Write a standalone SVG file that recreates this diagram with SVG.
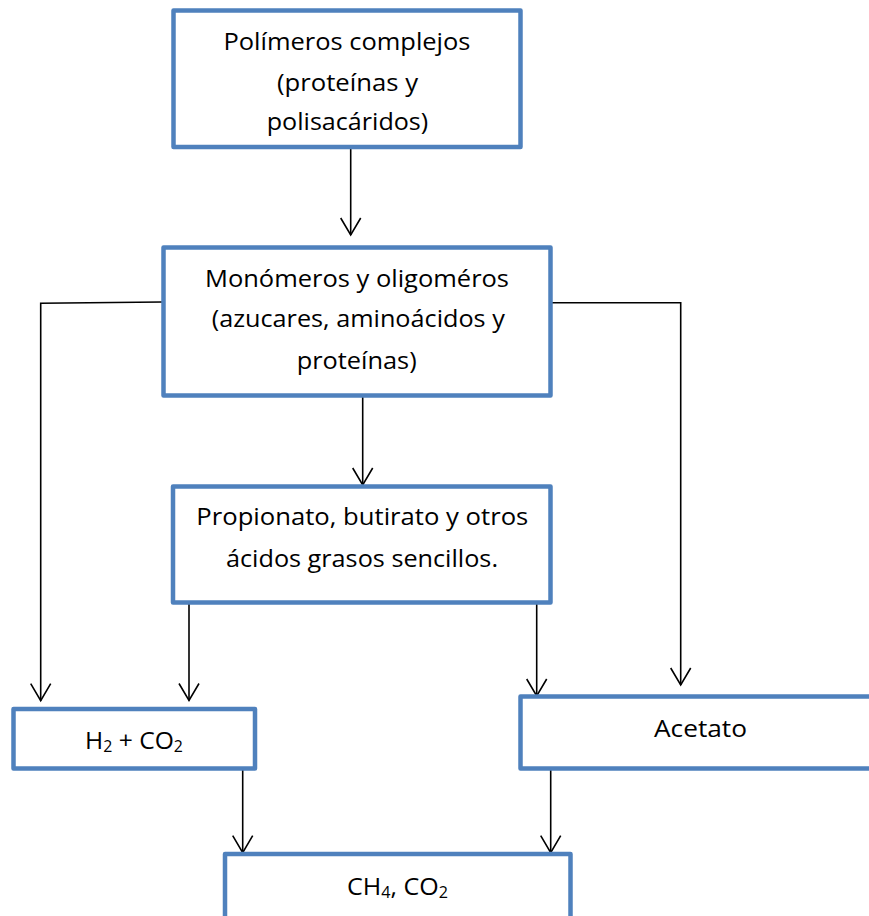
<svg xmlns="http://www.w3.org/2000/svg" width="869" height="916" viewBox="0 0 869 916">
  <style>
    .box { fill: #ffffff; stroke: #4F81BD; stroke-width: 4.5; stroke-linejoin: round; }
    .lbl { font-family: "Open Sans", "Liberation Sans", sans-serif; font-size: 24px; fill: #000000; text-anchor: middle; }
    .sub { font-size: 15.5px; }
    .wire { fill: none; stroke: #000000; stroke-width: 1.6; }
  </style>
  <defs>
    <marker id="arrow" markerUnits="userSpaceOnUse" markerWidth="20" markerHeight="24" refX="0" refY="0" orient="auto" overflow="visible">
      <path d="M -17,-10 L 0,0 L -17,10" fill="none" stroke="#000000" stroke-width="1.6"/>
    </marker>
  </defs>
  <rect width="869" height="916" fill="#ffffff"/>

  <!-- connectors -->
  <g id="connectors">
    <line class="wire" x1="350.7" y1="148" x2="350.7" y2="235" marker-end="url(#arrow)"/>
    <line class="wire" x1="362.7" y1="396" x2="362.7" y2="485" marker-end="url(#arrow)"/>
    <polyline class="wire" points="162,302 40.7,303.3 40.7,700.7" marker-end="url(#arrow)"/>
    <polyline class="wire" points="551,302.7 680.7,302.7 680.7,685" marker-end="url(#arrow)"/>
    <line class="wire" x1="189" y1="603" x2="189" y2="700.5" marker-end="url(#arrow)"/>
    <line class="wire" x1="536.7" y1="603" x2="536.7" y2="696" marker-end="url(#arrow)"/>
    <line class="wire" x1="242.7" y1="769" x2="242.7" y2="852.7" marker-end="url(#arrow)"/>
    <line class="wire" x1="550.7" y1="769" x2="550.7" y2="852.7" marker-end="url(#arrow)"/>
  </g>

  <g id="polimeros">
    <rect class="box" x="173.5" y="10.5" width="347" height="136.5"/>
    <text class="lbl" x="347" y="50" textLength="247" lengthAdjust="spacingAndGlyphs">Polímeros complejos</text>
    <text class="lbl" x="347.5" y="90.5" textLength="141" lengthAdjust="spacingAndGlyphs">(proteínas y</text>
    <text class="lbl" x="347.5" y="130" textLength="161.5" lengthAdjust="spacingAndGlyphs">polisacáridos)</text>
  </g>

  <g id="monomeros">
    <rect class="box" x="163.5" y="247.5" width="387" height="148"/>
    <text class="lbl" x="357" y="286.5" textLength="304" lengthAdjust="spacingAndGlyphs">Monómeros y oligoméros</text>
    <text class="lbl" x="358.3" y="327" textLength="293" lengthAdjust="spacingAndGlyphs">(azucares, aminoácidos y</text>
    <text class="lbl" x="356.7" y="368.5" textLength="120" lengthAdjust="spacingAndGlyphs">proteínas)</text>
  </g>

  <g id="acidos">
    <rect class="box" x="173" y="486.5" width="377.5" height="116"/>
    <text class="lbl" x="362.3" y="525" textLength="332" lengthAdjust="spacingAndGlyphs">Propionato, butirato y otros</text>
    <text class="lbl" x="362" y="566.7" textLength="272" lengthAdjust="spacingAndGlyphs">ácidos grasos sencillos.</text>
  </g>

  <g id="hidrogeno">
    <rect class="box" x="13.5" y="709" width="241.5" height="59.5"/>
    <text class="lbl" x="134" y="749" textLength="98" lengthAdjust="spacingAndGlyphs">H<tspan class="sub" dy="3">2</tspan><tspan dy="-3"> + CO</tspan><tspan class="sub" dy="3">2</tspan></text>
  </g>

  <g id="acetato">
    <rect class="box" x="520.5" y="696.5" width="360" height="72"/>
    <text class="lbl" x="700.5" y="736.7" textLength="93" lengthAdjust="spacingAndGlyphs">Acetato</text>
  </g>

  <g id="metano">
    <rect class="box" x="225" y="854" width="345.5" height="80"/>
    <text class="lbl" x="397.5" y="895" textLength="101" lengthAdjust="spacingAndGlyphs">CH<tspan class="sub" dy="3">4</tspan><tspan dy="-3">, CO</tspan><tspan class="sub" dy="3">2</tspan></text>
  </g>
</svg>
